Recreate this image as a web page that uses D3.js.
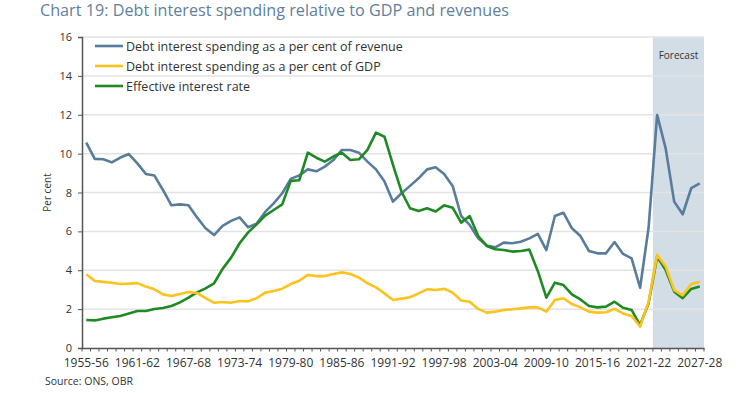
<!DOCTYPE html>
<meta charset="utf-8">
<style>
body { margin: 0; background: #fff; }
text { font-family: "Open Sans", "Liberation Sans", sans-serif; }
</style>
<body>
<script src="https://d3js.org/d3.v7.min.js"></script>
<script>
var width = 750,
    height = 393;

var years = ["1955-56","1956-57","1957-58","1958-59","1959-60","1960-61","1961-62","1962-63","1963-64","1964-65",
  "1965-66","1966-67","1967-68","1968-69","1969-70","1970-71","1971-72","1972-73","1973-74","1974-75",
  "1975-76","1976-77","1977-78","1978-79","1979-80","1980-81","1981-82","1982-83","1983-84","1984-85",
  "1985-86","1986-87","1987-88","1988-89","1989-90","1990-91","1991-92","1992-93","1993-94","1994-95",
  "1995-96","1996-97","1997-98","1998-99","1999-00","2000-01","2001-02","2002-03","2003-04","2004-05",
  "2005-06","2006-07","2007-08","2008-09","2009-10","2010-11","2011-12","2012-13","2013-14","2014-15",
  "2015-16","2016-17","2017-18","2018-19","2019-20","2020-21","2021-22","2022-23","2023-24","2024-25",
  "2025-26","2026-27","2027-28"];

var tickLabels = ["1955-56","1961-62","1967-68","1973-74","1979-80","1985-86","1991-92",
  "1997-98","2003-04","2009-10","2015-16","2021-22","2027-28"];

var forecastYears = ["2022-23","2023-24","2024-25","2025-26","2026-27","2027-28"];

// debt interest as % of revenue
var revenue = [10.57,9.73,9.71,9.55,9.8,9.98,9.5,8.95,8.87,8.13,
  7.34,7.39,7.34,6.72,6.16,5.81,6.28,6.54,6.72,6.21,
  6.4,7.0,7.44,7.96,8.7,8.88,9.19,9.09,9.33,9.67,
  10.19,10.19,10.05,9.59,9.19,8.56,7.53,7.96,8.34,8.73,
  9.19,9.3,8.95,8.34,6.79,6.33,5.64,5.27,5.18,5.42,
  5.39,5.47,5.64,5.87,5.04,6.79,6.96,6.16,5.76,4.99,
  4.87,4.87,5.45,4.84,4.61,3.1,6.2,11.99,10.27,7.53,
  6.88,8.22,8.47];

// debt interest as % of GDP
var gdp = [3.79,3.45,3.4,3.36,3.29,3.31,3.34,3.16,3.02,2.76,
  2.68,2.78,2.88,2.83,2.57,2.33,2.37,2.33,2.42,2.4,
  2.56,2.85,2.93,3.05,3.29,3.46,3.76,3.7,3.7,3.81,
  3.89,3.81,3.62,3.33,3.12,2.81,2.47,2.54,2.61,2.81,
  3.02,2.98,3.05,2.85,2.44,2.38,2.01,1.82,1.87,1.96,
  1.99,2.04,2.09,2.09,1.87,2.47,2.56,2.26,2.09,1.87,
  1.82,1.84,2.01,1.78,1.65,1.1,2.38,4.79,4.19,2.98,
  2.71,3.29,3.41];

// effective interest rate
var effective = [1.44,1.42,1.51,1.58,1.65,1.77,1.9,1.9,2.01,2.06,
  2.16,2.35,2.59,2.86,3.07,3.33,4.07,4.65,5.39,5.95,
  6.36,6.81,7.1,7.39,8.6,8.63,10.05,9.79,9.59,9.85,
  10.05,9.67,9.71,10.19,11.08,10.87,9.42,8.04,7.19,7.05,
  7.19,7.02,7.34,7.22,6.45,6.79,5.76,5.25,5.08,5.04,
  4.96,4.99,5.06,3.95,2.59,3.36,3.24,2.76,2.5,2.16,
  2.09,2.13,2.38,2.07,1.96,1.18,2.3,4.7,4.01,2.9,
  2.56,3.04,3.16];

var yTicks = [0, 2, 4, 6, 8, 10, 12, 14, 16];

var series = [
  {name: "Debt interest spending as a per cent of revenue", values: revenue, color: "#587c9c"},
  {name: "Debt interest spending as a per cent of GDP", values: gdp, color: "#fbc31b"},
  {name: "Effective interest rate", values: effective, color: "#1f8a24"}
];

var margin = {top: 37, right: 46, bottom: 45, left: 82};
var plotW = width - margin.left - margin.right,
    plotH = height - margin.top - margin.bottom;

var svg = d3.select("body").append("svg")
    .attr("width", width)
    .attr("height", height);

var x = d3.scaleBand().domain(years).range([0, plotW]);
var y = d3.scaleLinear().domain([0, 16]).range([plotH, 0]);
var cx = function(d) { return x(d) + x.bandwidth() / 2; };

svg.append("text")
    .attr("x", 40)
    .attr("y", 16)
    .attr("fill", "#5f7f9c")
    .style("font-size", "16.2px")
    .text("Chart 19: Debt interest spending relative to GDP and revenues");

var g = svg.append("g").attr("transform", "translate(" + margin.left + "," + margin.top + ")");

// forecast shading
g.append("rect")
    .attr("x", x(forecastYears[0]))
    .attr("y", 0)
    .attr("width", x(forecastYears[forecastYears.length - 1]) + x.bandwidth() - x(forecastYears[0]))
    .attr("height", plotH)
    .attr("fill", "#d3dde6");

g.append("text")
    .attr("x", x(forecastYears[0]) + (plotW - x(forecastYears[0])) / 2)
    .attr("y", 22)
    .attr("text-anchor", "middle")
    .attr("fill", "#333")
    .style("font-size", "10px")
    .text("Forecast");

// gridlines
g.selectAll(".grid").data(yTicks.slice(1)).enter().append("line")
    .attr("x1", 0).attr("x2", plotW)
    .attr("y1", y).attr("y2", y)
    .attr("stroke", "#e3e3e3")
    .attr("stroke-width", 1.5);

// y axis
var yAxis = g.append("g").call(d3.axisLeft(y).tickValues(yTicks).tickSize(4).tickPadding(6));
yAxis.select(".domain").attr("stroke", "#555").attr("stroke-width", 1.5);
yAxis.selectAll(".tick line").attr("stroke", "#555");
yAxis.selectAll("text").attr("fill", "#333").style("font-size", "11px")
    .style("font-family", "'Open Sans', sans-serif");

g.append("text")
    .attr("transform", "translate(-31," + (plotH / 2) + ") rotate(-90)")
    .attr("text-anchor", "middle")
    .attr("fill", "#333")
    .style("font-size", "10px")
    .text("Per cent");

// x axis
var xAxis = g.append("g").attr("transform", "translate(0," + plotH + ")")
    .call(d3.axisBottom(x).tickValues(tickLabels).tickSize(0).tickPadding(10));
xAxis.select(".domain").attr("stroke", "#555").attr("stroke-width", 1.5);
xAxis.selectAll("text").attr("fill", "#333").style("font-size", "12px")
    .style("font-family", "'Open Sans', sans-serif");

g.append("g").attr("transform", "translate(0," + plotH + ")")
  .selectAll("line").data(years.concat(["end"])).enter().append("line")
    .attr("x1", function(d) { return d === "end" ? plotW : x(d); })
    .attr("x2", function(d) { return d === "end" ? plotW : x(d); })
    .attr("y1", 0).attr("y2", 3.5)
    .attr("stroke", "#555");

// lines
var line = d3.line()
    .x(function(d, i) { return cx(years[i]); })
    .y(function(d) { return y(d); });

[series[0], series[2], series[1]].forEach(function(s) {
  g.append("path")
      .datum(s.values)
      .attr("d", line)
      .attr("fill", "none")
      .attr("stroke", s.color)
      .attr("stroke-width", 2.6)
      .attr("stroke-linejoin", "round");
});

// legend
var legend = svg.append("g").attr("transform", "translate(95,46)");
series.forEach(function(s, i) {
  var row = legend.append("g").attr("transform", "translate(0," + (i * 20) + ")");
  row.append("line").attr("x1", 0).attr("x2", 28).attr("y1", 0).attr("y2", 0)
      .attr("stroke", s.color).attr("stroke-width", 2.6);
  row.append("text").attr("x", 31).attr("y", 4.5)
      .attr("fill", "#333")
      .style("font-size", "12.5px")
      .text(s.name);
});

svg.append("text")
    .attr("x", 45)
    .attr("y", 385)
    .attr("fill", "#333")
    .style("font-size", "10.5px")
    .text("Source: ONS, OBR");
</script>
</body>
